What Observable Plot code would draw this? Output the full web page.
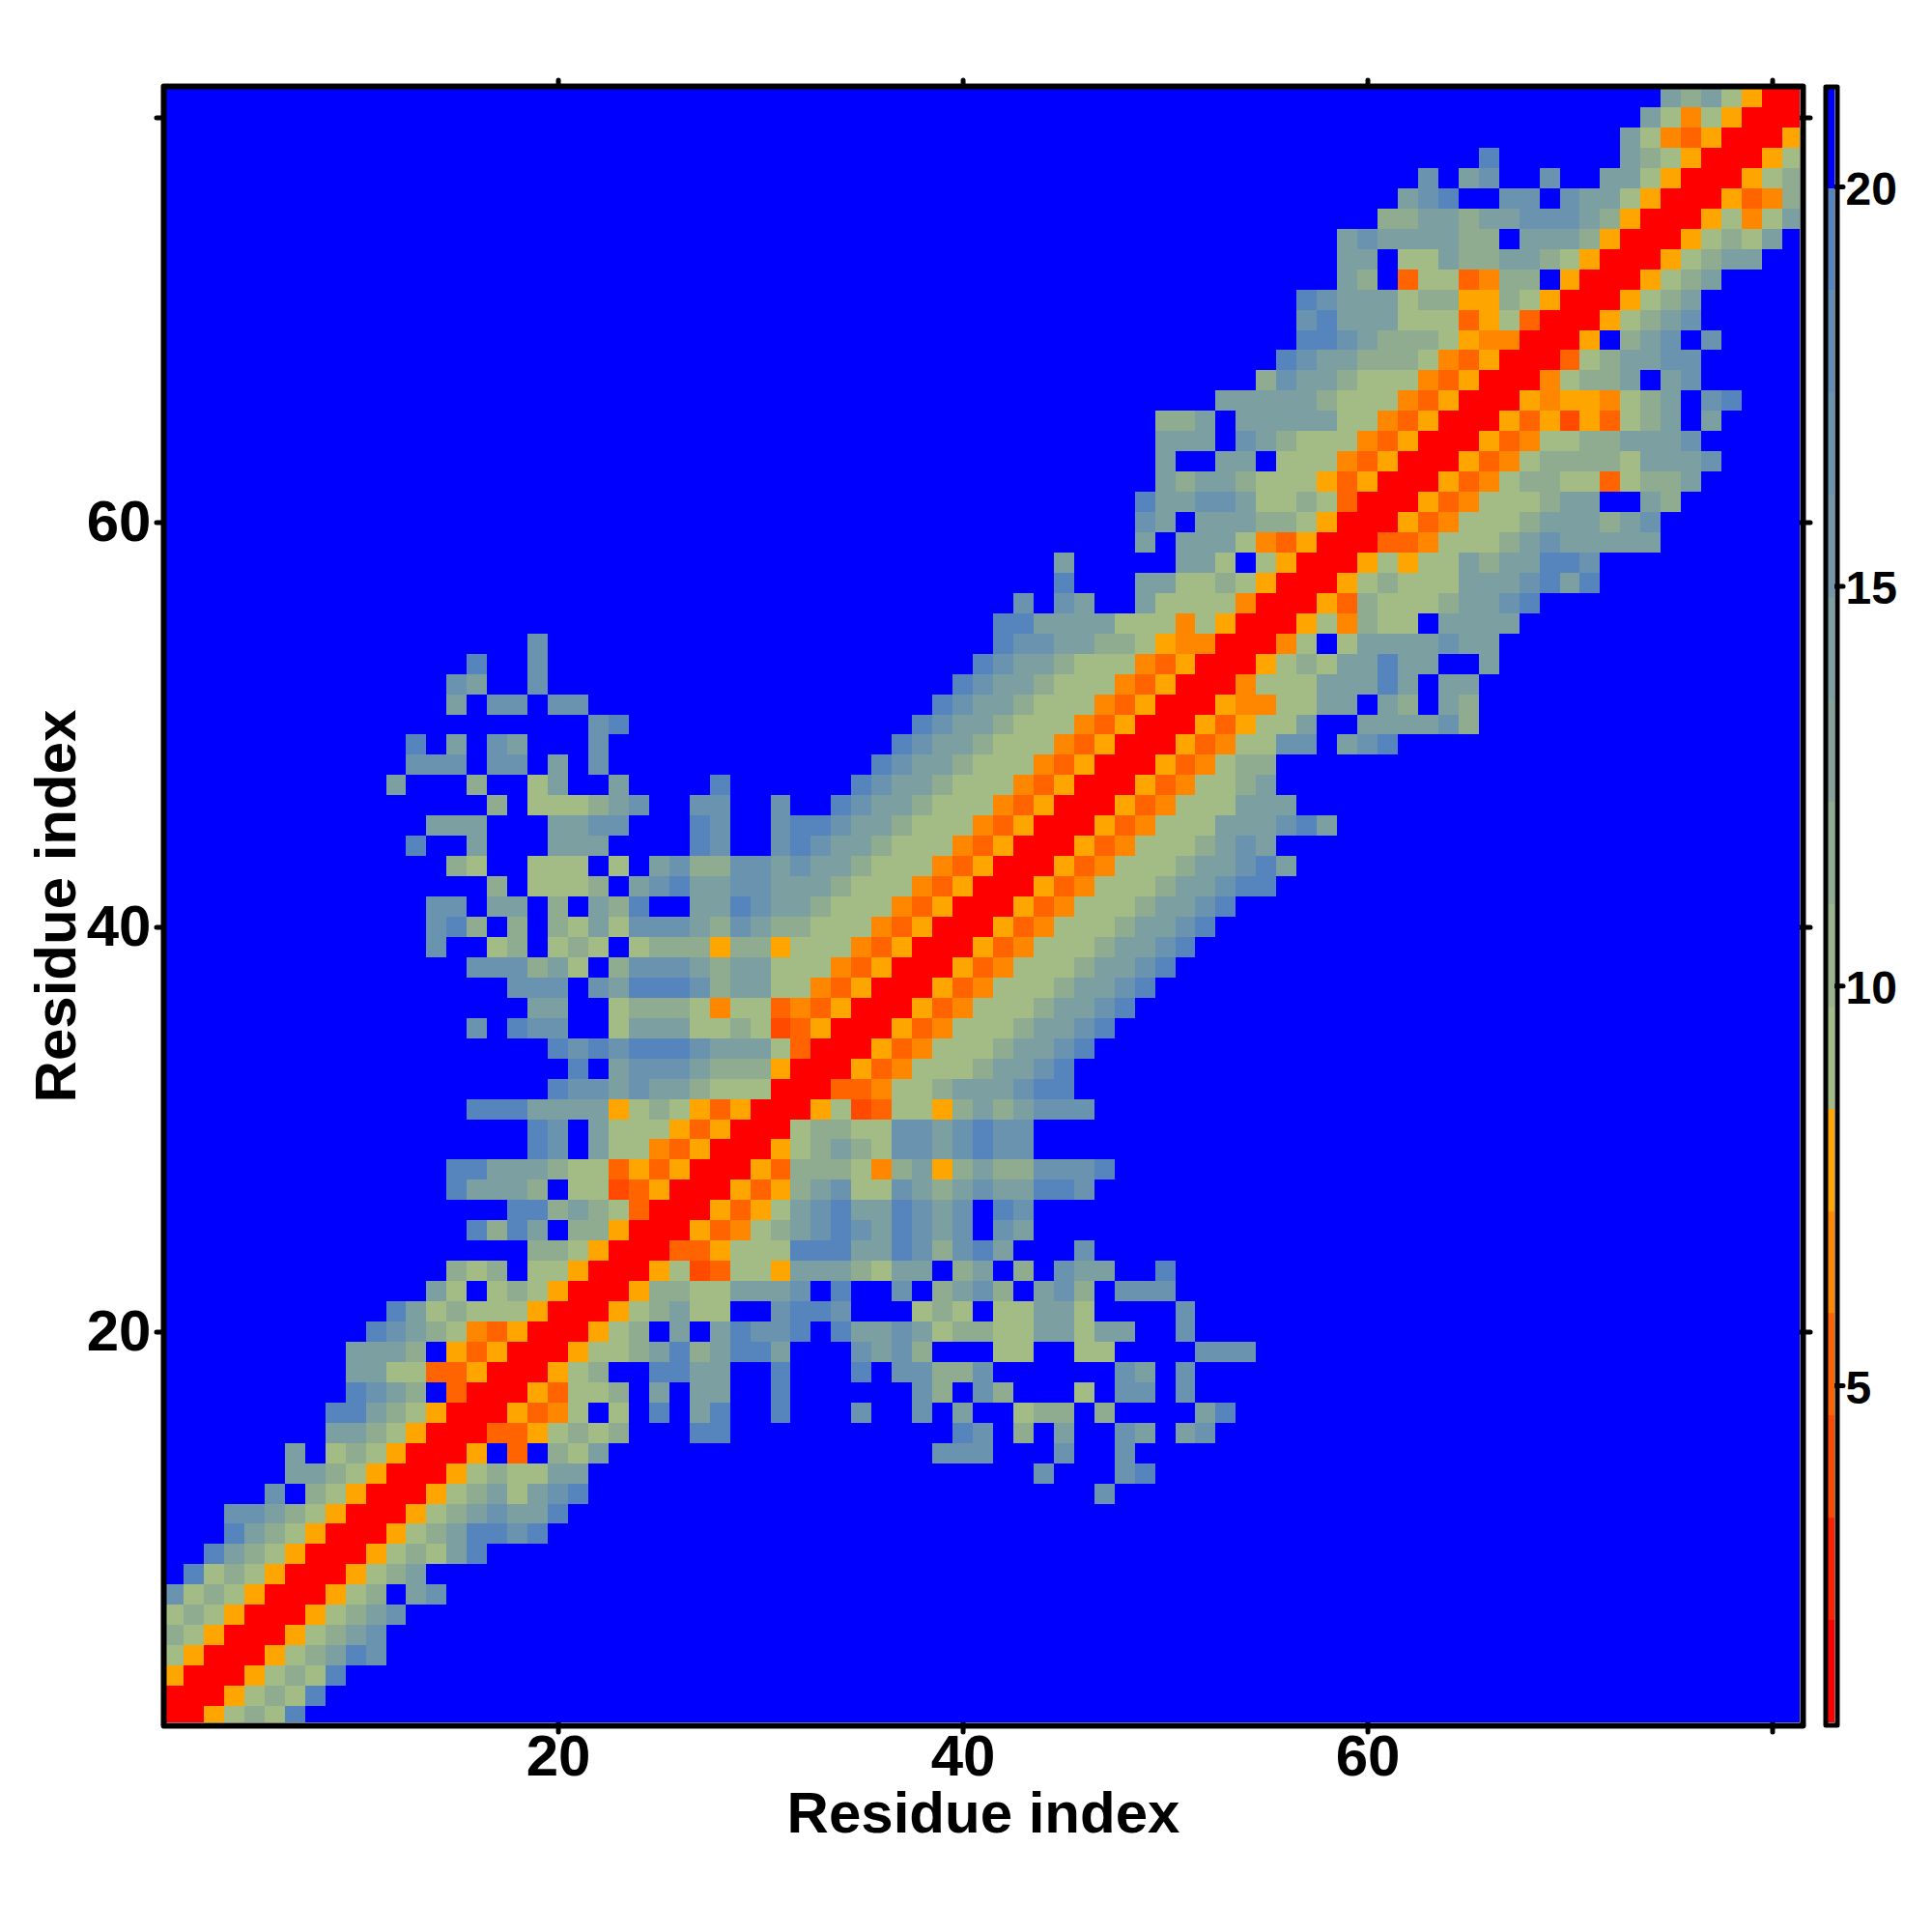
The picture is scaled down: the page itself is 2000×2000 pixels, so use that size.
<!DOCTYPE html>
<html><head><meta charset="utf-8">
<script src="https://cdn.jsdelivr.net/npm/d3@7"></script>
<script src="https://cdn.jsdelivr.net/npm/@observablehq/plot@0.6"></script>
<style>html,body{margin:0;background:#fff}#c{position:relative;width:2000px;height:2000px}#c svg{position:absolute;left:0;top:0;overflow:visible;background:transparent}</style>
</head><body><div id="c"></div>
<script>
// Upper edges of the 16 colour bins
const binEdges = [0.78,2.06,3.34,4.62,5.9,7.18,8.46,9.74,11.02,12.3,13.58,14.86,16.14,17.42,18.7,19.98,21.22];
const binColors = ["#ff0000","#ff2100","#ff4a00","#ff6400","#ff8700","#ffa500","#a3bc85","#99b48a","#8fac90","#859f99","#7ca0a1","#7397a8","#6993af","#608cb6","#5685bd","#0000ff"];
const barTicks = [5,10,15,20];
const axisTicks = [20,40,60,80];
const axisLabels = [20,40,60];
const axisTitle = "Residue index";
// Code used in rows -> bin index
const codes = {R:0,a:2,b:3,c:4,d:5,"1":6,"2":8,"3":10,"4":12,"5":14,".":15};
// rows[j] = residue (j+1) on y. Each item "col:cells" starts at residue col on x; everything else is the blue top bin.
const rows = [
"1:RRd1215","1:RRRd1215","1:dRRRd1215","1:1dRRRd12354","1:21dRRRd1234","1:121dRRRd1234","1:4121dRRRd12.34","2:5121dRRRd123","3:5321dRRRd12135",
"4:5321dRRRd1235545",
"4:44321dRRRd1234335",
"6:4.21dRRRd1231345 47:4",
"7:3321dRRRd121133 44:4 48:45",
"7:3.121dRRRd.b.213 39:444 45:4 48:4",
"9:3321dRRRbbd1212 27:55 40:54 43:2 45:3 48:43 51:34",
"9:55321dRRRdbc1.1.5.35 31:5 35:4 38:4 40:3 43:122 47:2 52:35",
"10:5432.bRRRdb112.3.33 31:5 38:42 41:42 46:1 48:44 51:4",
"10:3311bbdRRRd12..5533 31:5 35:5 37:44224 48:43 51:4",
"10:3332.dbdRRRd1123523553 35:4342 42:11 46:11 52:444",
"11:54321cbdRRRd12.3.35445.533431221133133 51:4",
"12:5312111dRRRd12311..4554 38:121.11331 51:4",
"14:31.121dRRRd22113334.5 37:4.2342.342 48:444",
"15:212.11dRRRd1ab11d3332133.23.2.433 50:5",
"19:221dRRRbbd11155533542453 46:4",
"16:5253.22dRRRdbc12345435434.43",
"18:552321bRRRdbd1345335434.54",
"15:53332.11abdRRRdbd234114323433554",
"15:55333211bdbdRRRdb2221c23d23224445",
"19:54.311cbdRRRd123214434544",
"19:54.3111dbdRRR122114434544",
"16:5553333d121dbdRRRd1ab11d2323444",
"20:54434332111RRRbbc112333455",
"21:5.34443222dRRRdbc11123345",
"20:545455543331bRRRdbc11123345",
"16:4.544..13331121abdRRRdbc11123345",
"19:33..12221c11bcbdRRRdbc11123345",
"18:444.43555423311cbdRRRdbc11123345",
"16:444231.24443233111cbdRRRdbc11123345",
"14:4..12.121.1222d22d111cbdRRRdbc11123345",
"14:452.2.2131444324322111cbdRRRdbc11123345",
"14:44.33.2.325..3354332111cbdRRRdbc11123345",
"17:2.1112.34533443332111cbdRRRdbc111233455",
"15:21..111.1.34224434332111cbdRRRdbc111233453",
"13:5..3...333....54..454332111cbdRRRdbc1112343",
"14:333...3344...54..4554332111cbdRRRdbc111333453",
"17:2.111234..44..4..54332111cbdRRRdbc111333",
"12:3...2..13..3....5......54332111cbdRRRdbc1123",
"13:444.44.3.4 36:54332111cbdRRRdbc122",
"13:5.3.43...4 37:54332111cbdRRRdbc1144.345",
"22:45 38:54332111cbdRRRdbd113..333342",
"15:3.44.44 39:54332111cbdRRRdcc1133.32.32",
"15:43 19:4 40:54332111cbdRRRc11133353.33",
"16:5 19:4 41:54332111cbdRRRd12133533..3",
"19:4 42:54433221dccRRRc1.13333433",
"42:553333111c1dRRRd1c211.3333",
"43:4.43..31111cRRRdb211123345",
"45:5 49:331121dRRRd121113334535",
"45:3 51:331.1dRRRd1d113233554",
"49:3.3331cbdRRRbbc11123433333",
"49:43.333221dRRRdbc1112333234",
"49:5334431121bRRRdbc111233..32",
"50:32332111dbdRRRdbc12211b1223",
"50:3..33.111cbdRRRdbc1222213334",
"50:333.432111cbdRRRdbc11223334",
"50:223.3333311cbdRRRdbdadb123.3",
"53:333332111cbdRRRdcddc123.45",
"55:24332111cbdRRRc1223.34",
"56:54332221cbdRRRb123344",
"57:55432221dccRRRd.234.4",
"57:45333111bd1bRRRd1234",
"57:54333122dd21dRRRd123",
"59:32.b11bc22.dRRRd123",
"59:33.113223321dRRRd1233",
"59:34333322.3332dRRRd1213",
"61:223323344432dRRRd1c13",
"62:345..44.4331dRRRdbc2",
"63:4 65:34 69:4 72:331dRRRd12",
"66:5 73:321dRRRd1",
"73:31cbdRRRd",
"74:31c1dRRR",
"75:3231dRR"
];

const binMid = k => (binEdges[k] + binEdges[k + 1]) / 2;
const n = rows.length;
const grid = Array.from({length: n}, () => new Array(n).fill(15));
rows.forEach((row, j) => row.split(" ").forEach(item => {
  const [col, cells] = item.split(":");
  [...cells].forEach((ch, i) => { grid[j][+col - 1 + i] = codes[ch]; });
}));
const cells = [];
grid.forEach((r, j) => r.forEach((k, i) => cells.push({x: i + 1, y: j + 1, v: binMid(k)})));
const bins = binColors.map((_, k) => ({lo: binEdges[k], hi: binEdges[k + 1], v: binMid(k)}));

const font = {fontFamily: "'Liberation Sans', Arial, sans-serif", fontWeight: "bold"};
const color = {type: "threshold", domain: binEdges.slice(1, -1), range: binColors};
const tick = {tickSize: 10, strokeWidth: 5, strokeLinecap: "round", tickFormat: () => "", ticks: axisTicks, label: null};
const lab = {tickSize: 0, ticks: axisLabels, label: null, fontSize: 60, ...font};

const main = Plot.plot({
  width: 2000, height: 2000,
  marginLeft: 172, marginRight: 137, marginTop: 92, marginBottom: 217,
  x: {domain: [0.64, 81.36]},
  y: {domain: [0.69, 81.41]},
  color,
  marks: [
    Plot.axisX({...tick, anchor: "bottom"}),
    Plot.axisX({...tick, anchor: "top"}),
    Plot.axisY({...tick, anchor: "left"}),
    Plot.axisY({...tick, anchor: "right"}),
    Plot.rect(cells, {x1: d => d.x - 0.5, x2: d => d.x + 0.5, y1: d => d.y - 0.5, y2: d => d.y + 0.5, fill: "v", clip: true, shapeRendering: "crispEdges"}),
    Plot.frame({inset: -3, stroke: "black", strokeWidth: 6, strokeLinejoin: "round"}),
    Plot.axisX({...lab, anchor: "bottom", tickPadding: 12}),
    Plot.axisY({...lab, anchor: "left", tickPadding: 16}),
    Plot.text([axisTitle], {frameAnchor: "bottom", dy: 113, lineAnchor: "bottom", fontSize: 60, ...font}),
    Plot.text([axisTitle], {frameAnchor: "left", textAnchor: "middle", dx: -95, rotate: -90, lineAnchor: "bottom", fontSize: 60, ...font})
  ]
});
const bar = Plot.plot({
  width: 2000, height: 2000,
  marginLeft: 1892, marginRight: 101, marginTop: 92, marginBottom: 217,
  x: {domain: [0, 1], axis: null},
  y: {domain: [0.78, 21.22], axis: null},
  color,
  marks: [
    Plot.axisY({anchor: "right", ticks: barTicks, tickSize: 8, strokeWidth: 5, strokeLinecap: "round", tickFormat: () => "", label: null}),
    Plot.rect(bins, {x1: () => 0, x2: () => 1, y1: "lo", y2: "hi", fill: "v", shapeRendering: "crispEdges"}),
    Plot.frame({inset: -2.5, stroke: "black", strokeWidth: 5, strokeLinejoin: "round"}),
    Plot.axisY({anchor: "right", ticks: barTicks, tickSize: 0, tickPadding: 11, label: null, fontSize: 48, dy: 3, ...font})
  ]
});
document.getElementById("c").append(main, bar);
</script>
</body></html>
